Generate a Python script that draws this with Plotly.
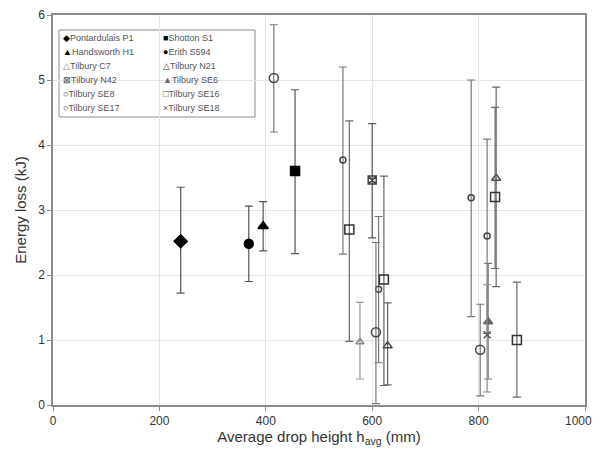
import plotly.graph_objects as go

# legend labels and marker styling per test series
names = ["Pontardulais P1", "Shotton S1", "Handsworth H1", "Erith S594",
         "Tilbury C7", "Tilbury N21", "Tilbury N42", "Tilbury SE6",
         "Tilbury SE8", "Tilbury SE16", "Tilbury SE17", "Tilbury SE18"]

# average drop height (mm)
h_avg = [[240], [455], [395], [368],
         [577], [629, 833], [600], [818],
         [545, 612, 786, 816], [557, 622, 831, 872], [415, 607, 803], [816]]

# energy loss (kJ)
energy = [[2.52], [3.60], [2.75], [2.48],
          [0.97], [0.91, 3.49], [3.46], [1.28],
          [3.77, 1.78, 3.19, 2.60], [2.70, 1.93, 3.20, 1.00], [5.03, 1.12, 0.85], [1.08]]

# upper / lower ends of the error bars (kJ)
e_high = [[3.35], [4.85], [3.13], [3.06],
          [1.58], [1.57, 4.89], [4.33], [2.18],
          [5.20, 2.90, 5.00, 4.09], [4.37, 3.52, 4.58, 1.89], [5.85, 2.50, 1.55], [1.85]]
e_low = [[1.72], [2.33], [2.37], [1.90],
         [0.40], [0.31, 1.82], [2.57], [0.40],
         [2.32, 0.65, 1.36, 1.10], [0.98, 0.30, 2.10, 0.12], [4.20, 0.02, 0.14], [0.20]]

# x tick values and labels (last one padded so it isn't cut at the window edge)
x_ticks = [0, 200, 400, 600, 800, 1000]
x_labels = ["0", "200", "400", "600", "800", "1000\u00a0\u00a0\u00a0\u00a0"]

symbols = ["diamond", "square", "triangle-up", "circle",
           "triangle-up-open", "triangle-up-open", "square-x-open", "triangle-up",
           "circle-open", "square-open", "circle-open", "x-thin-open"]
mcolors = ["black", "black", "black", "black",
           "#888888", "#444444", "#444444", "#666666",
           "#444444", "#333333", "#444444", "#555555"]
msizes = [10, 9, 9, 9, 7, 8, 8, 8, 6, 9, 9, 7]
ecolors = ["#555555", "#555555", "#555555", "#555555",
           "#999999", "#666666", "#555555", "#777777",
           "#777777", "#666666", "#777777", "#888888"]
# glyphs used in the little legend box
glyphs = ["◆", "■", "▲", "●", "△", "△", "⊠", "▲", "○", "□", "○", "×"]

fig = go.Figure()
for i, name in enumerate(names):
    plus = [hi - y for hi, y in zip(e_high[i], energy[i])]
    minus = [y - lo for lo, y in zip(e_low[i], energy[i])]
    fig.add_trace(go.Scatter(
        x=h_avg[i], y=energy[i], mode="markers", name=name, showlegend=False,
        marker=dict(symbol=symbols[i], size=msizes[i], color=mcolors[i],
                    line=dict(color=mcolors[i], width=1.5)),
        error_y=dict(type="data", symmetric=False, array=plus, arrayminus=minus,
                     color=ecolors[i], thickness=1.2, width=4),
    ))

# plot area in page pixels (the page body has an 8px margin)
L, W, B, H = 53, 532, 405, 390

# legend box drawn as annotations, two columns
legend_notes = []
for i, name in enumerate(names):
    col, row = i % 2, i // 2
    px = 61 if col == 0 else 161
    py = 38 + 14 * row
    legend_notes.append(dict(
        xref="paper", yref="paper", x=(px - L) / W, y=(B - py) / H,
        xanchor="left", yanchor="middle", showarrow=False,
        text="<span style='color:%s'>%s</span>%s" % (mcolors[i], glyphs[i], name),
        font=dict(size=9, color="#555555")))

axis_style = dict(showline=True, linecolor="#8c8c8c", linewidth=1.5, mirror=True,
                  ticks="outside", ticklen=4, tickcolor="#8c8c8c",
                  showgrid=True, gridcolor="#e6e6e6", gridwidth=1,
                  zeroline=False, automargin=False, ticklabeloverflow="allow",
                  tickfont=dict(size=12, color="#333333"))

fig.update_layout(
    width=593, height=445,
    margin=dict(l=45, r=16, t=7, b=48),
    paper_bgcolor="white", plot_bgcolor="white",
    font=dict(family="Liberation Sans, Arial, sans-serif", color="#333333"),
    xaxis=dict(range=[0, 1000], tickvals=x_ticks, ticktext=x_labels,
               title=dict(text="Average drop height h<sub>avg</sub> (mm)",
                          font=dict(size=15), standoff=4),
               **axis_style),
    yaxis=dict(range=[0, 6], dtick=1,
               title=dict(text="Energy loss (kJ)", font=dict(size=15), standoff=8),
               **axis_style),
    annotations=legend_notes,
    shapes=[dict(type="rect", xref="paper", yref="paper",
                 x0=(59 - L) / W, x1=(255 - L) / W,
                 y0=(B - 117) / H, y1=(B - 30) / H,
                 line=dict(color="#8c8c8c", width=1), fillcolor="white",
                 layer="between")],
)

fig.write_html("out.html")
